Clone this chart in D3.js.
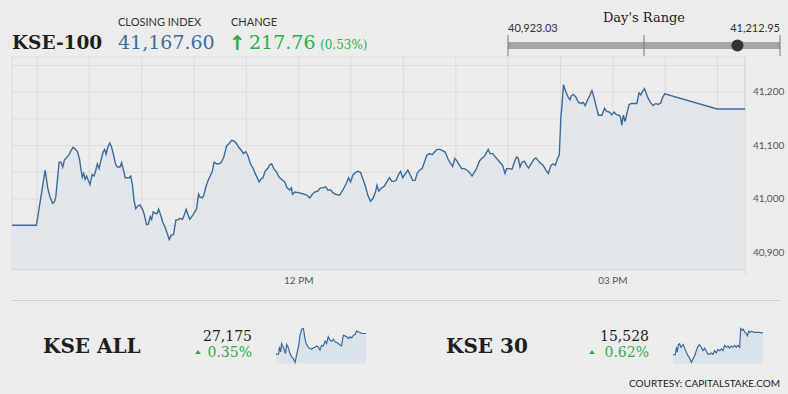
<!DOCTYPE html>
<html>
<head>
<meta charset="utf-8">
<script src="https://cdn.jsdelivr.net/npm/d3@7"></script>
<style>
    body { margin: 0; background: #ececec; }
    .sans { font-family: Lato, 'Open Sans', sans-serif; }
    .serif { font-family: 'DejaVu Serif', 'Liberation Serif', serif; }
    .grid line, .grid path { stroke: #dcdcdc; }
    .axis text { font-family: Lato, sans-serif; font-size: 10px; fill: #555; }
</style>
</head>
<body>
<svg id="kse"></svg>
<script>
//KSE-100 INTRADAY CHART WITH SPARKLINES

//header values
var indexName = 'KSE-100',
    closingIndex = 41167.60,
    change = 217.76,
    changePct = 0.53,
    dayLow = 40923.03,
    dayHigh = 41212.95;

//y axis labels
var yLabels = [40900, 41000, 41100, 41200];

//main series: [minutes after 09:30, index]
var kse100Series = [
    [-14,40949.84],[0,40949.84],[5,41053],[6.5,41019],[7.8,41003],[9.2,40991],[10.3,40994],[11.1,41003],[13,41068],[14.1,41068],
    [15.1,41059],[16,41072],[17.4,41077],[18.7,41082],[19.8,41090],[21,41096],[22.1,41093],[23.5,41088],[24.6,41075],[25.6,41053],
    [26.3,41040],[27.1,41047],[27.9,41036],[28.8,41042],[29.7,41034],[30.7,41026],[31.9,41045],[33,41042],[34,41053],[34.9,41065],
    [35.9,41056],[37,41072],[38.2,41087],[39.1,41092],[39.9,41083],[40.8,41095],[42,41104],[43.1,41096],[44,41084],[45.4,41064],
    [46.3,41059],[47.9,41059],[48.8,41067],[49.8,41054],[50.9,41039],[53.2,41039],[54,41042],[54.9,41028],[55.9,40997],[56.9,40981],
    [58,40986],[59.3,40988],[60.6,40981],[61.8,40970],[63.1,40951],[64.1,40952],[65.2,40966],[66,40961],[66.9,40975],[68.3,40972],
    [69.2,40972],[70,40980],[71.2,40969],[72.3,40956],[73.6,40947],[74.9,40935],[76.1,40923.03],[77.2,40931],[78.6,40933],[79.9,40960],
    [81.2,40960],[82.2,40963],[83.7,40961],[84.7,40969],[85.8,40980],[86.9,40969],[87.9,40961],[89.8,40970],[91.7,40980],[92.9,41008],
    [93.6,41003],[95,41001],[95.9,41006],[97.1,41022],[98.4,41034],[99.8,41044],[100.7,41050],[101.8,41068],[103.2,41065],[104.7,41065],
    [106,41068],[107.4,41078],[108.9,41098],[110.4,41103],[111.9,41109],[113.5,41107],[114.6,41103],[115.9,41096],[117.5,41090],[118.6,41084],
    [119.9,41088],[121.1,41081],[122.6,41065],[124.1,41057],[125.3,41047],[126.4,41040],[127.6,41031],[128.9,41037],[129.8,41039],[131,41051],
    [132.5,41056],[133.7,41063],[134.8,41065],[136,41056],[137.5,41050],[139,41040],[140.4,41036],[142.3,41031],[143.6,41020],[145.1,41016],
    [146.1,41020],[146.7,41008],[148,41012],[149.9,41011],[152.7,41009],[155,41006],[156.6,41001],[158.1,41008],[159.4,41012],[161.3,41014],
    [162.7,41020],[164.2,41020],[165.7,41022],[167,41016],[168.6,41016],[169.9,41011],[171.4,41008],[173.7,41006],[175.6,41016],[177.5,41028],
    [178.9,41039],[180,41031],[181.3,41044],[182.9,41049],[184.2,41051],[185.7,41049],[187,41037],[188.6,41022],[189.9,41006],[191.4,40995],
    [192.8,41000],[194.3,41012],[195.1,41025],[196.2,41014],[197.6,41019],[199.5,41024],[200.8,41031],[202.3,41039],[203.6,41032],[204.8,41032],
    [206.1,41034],[207.5,41045],[208.6,41051],[209.9,41039],[211.5,41047],[212.8,41053],[214.2,41044],[215.6,41034],[217,41034],[218.2,41047],
    [219.5,41053],[221,41056],[222.3,41068],[223.7,41081],[225.2,41084],[226.7,41082],[228.1,41087],[229.6,41092],[230.9,41092],[232.5,41090],
    [234.2,41087],[235.7,41075],[237,41067],[238.5,41060],[239.7,41075],[241,41070],[242.4,41062],[243.7,41056],[245.2,41056],[246.8,41053],
    [248.1,41049],[249.6,41042],[250.9,41049],[252.3,41057],[253.8,41070],[255.1,41075],[256.7,41079],[258,41087],[258.9,41092],[259.9,41084],
    [261.4,41084],[262.9,41078],[264.5,41072],[265.8,41067],[267.1,41062],[268.5,41047],[269.4,41056],[270.9,41056],[272.5,41055],[273.8,41068],
    [275.1,41078],[276.1,41075],[277.1,41059],[278.2,41068],[279.5,41070],[280.9,41062],[282,41057],[283.4,41065],[284.9,41073],[286.2,41076],
    [287.7,41070],[289.1,41065],[290.4,41062],[291.9,41053],[293.3,41047],[294.8,41062],[296.1,41065],[297.3,41062],[298.6,41075],[299.6,41082],
    [300.5,41152],[301.1,41174],[302,41212.95],[303.4,41199],[304.7,41190],[305.7,41185],[306.6,41193],[307.7,41195],[309.1,41190],[310.6,41180],
    [312,41178],[313.3,41180],[314.4,41174],[315.7,41184],[317.1,41193],[318.3,41202],[319.6,41188],[320.6,41174],[322,41156],[324,41156],
    [325.5,41169],[326.8,41163],[328.2,41162],[329.7,41157],[331,41162],[332.3,41157],[333.9,41156],[334.8,41151],[335.4,41137],[336.3,41156],
    [337.3,41144],[338.3,41159],[339.6,41176],[340.9,41178],[342.5,41178],[344,41178],[345.3,41198],[346.3,41194],[347.2,41200],[348.4,41206],
    [349.5,41196],[350.6,41187],[352,41179],[353.3,41174],[354.9,41178],[356.2,41176],[357.7,41179],[358.6,41188],[360,41196],[390,41167.60],[406,41167.60]
];

//sub indices
var subNames = ['KSE ALL', 'KSE 30'],
    subValues = [27175, 15528],
    subChanges = [0.35, 0.62];

//sparkline series: [minutes after 09:30, index]
var kseAllSeries = [
    [-14,27080],[-2,27080],[2,27114],[8,27091],[12,27129],[17,27118],[23,27106],[30,27083],[36,27125],[44,27109],
    [51,27083],[59,27068],[67,27060],[75,27042],[82,27076],[92,27121],[98,27167],[106,27195],[114,27198],[120,27160],
    [126,27129],[132,27121],[138,27109],[145,27106],[152,27103],[160,27109],[168,27112],[176,27118],[184,27112],[191,27099],
    [199,27121],[207,27118],[215,27140],[222,27129],[230,27160],[238,27144],[246,27140],[254,27149],[261,27137],[269,27134],
    [277,27129],[285,27121],[292,27118],[300,27167],[308,27164],[316,27160],[324,27152],[331,27160],[339,27155],[347,27167],
    [355,27170],[362,27186],[370,27183],[378,27180],[386,27175],[406,27175]
];
var kse30Series = [
    [-14,15432],[-3,15432],[2,15465],[6,15443],[11,15476],[17,15480],[22,15465],[28,15470],[34,15476],[40,15461],
    [48,15443],[56,15428],[64,15416],[72,15398],[79,15413],[87,15428],[95,15450],[103,15470],[110,15476],[118,15465],
    [126,15450],[134,15461],[142,15446],[149,15435],[157,15435],[165,15440],[173,15434],[180,15450],[188,15440],[196,15455],
    [204,15450],[212,15458],[219,15450],[227,15473],[235,15465],[243,15470],[250,15461],[258,15470],[266,15465],[274,15473],
    [281,15465],[289,15473],[297,15465],[302,15547],[308,15540],[314,15544],[320,15532],[328,15525],[333,15515],[339,15535],
    [345,15530],[352,15535],[359,15532],[367,15530],[383,15530],[406,15528]
];

var lineColor = '#3b6b9b',
    green = '#2bae4a',
    blue = '#3c6e9f';

//chart parameters
var svg = d3.select('#kse')
    .attr('width', 788)
    .attr('height', 394);

svg.append('rect')
    .attr('width', 788)
    .attr('height', 394)
    .attr('fill', '#ececec');

var margin = {top: 57, right: 43, bottom: 125, left: 12},
    width = +svg.attr('width') - margin.left - margin.right,
    height = +svg.attr('height') - margin.top - margin.bottom;

var base = new Date(2019, 4, 2, 9, 30);
var toTime = m => new Date(base.getTime() + m * 60000);

//define scales
var xScale = d3.scaleTime()
        .domain(d3.extent(kse100Series, d => toTime(d[0])))
        .range([0, width]),
    yScale = d3.scaleLinear()
        .domain([40868, 41265])
        .range([height, 0]);

//create chart group
var canvas = svg.append('g')
    .attr('transform', 'translate(' + margin.left + ',' + margin.top + ')');

//plot frame
canvas.append('rect')
    .attr('width', width)
    .attr('height', height)
    .attr('fill', 'none')
    .attr('stroke', '#dcdcdc');

//x gridlines
canvas.append('g')
    .attr('class', 'grid')
    .call(d3.axisBottom(xScale)
        .ticks(d3.timeMinute.every(30))
        .tickSize(height)
        .tickFormat(''))
    .call(g => g.select('.domain').remove());

//y gridlines
canvas.append('g')
    .attr('class', 'grid')
    .call(d3.axisLeft(yScale)
        .tickValues(d3.range(40900, 41251, 50))
        .tickSize(-width)
        .tickFormat(''))
    .call(g => g.select('.domain').remove());

//bottom rule
canvas.append('line')
    .attr('x1', 0).attr('x2', width)
    .attr('y1', height).attr('y2', height)
    .attr('stroke', '#d6d6d6')
    .attr('stroke-width', 2);

//right edge tick
canvas.append('line')
    .attr('x1', width).attr('x2', width)
    .attr('y1', 0).attr('y2', height + 5)
    .attr('stroke', '#d6d6d6');

//x axis labels
canvas.append('g')
    .attr('class', 'axis')
    .attr('transform', 'translate(0,' + height + ')')
    .call(d3.axisBottom(xScale)
        .tickValues([toTime(150), toTime(330)])
        .tickFormat(d3.timeFormat('%I %p'))
        .tickSize(0)
        .tickPadding(8))
    .call(g => g.select('.domain').remove());

//y axis labels
canvas.append('g')
    .attr('class', 'axis')
    .attr('transform', 'translate(' + width + ',0)')
    .call(d3.axisRight(yScale)
        .tickValues(yLabels)
        .tickFormat(d3.format(','))
        .tickSize(0)
        .tickPadding(8))
    .call(g => g.select('.domain').remove());

//area and line
var area = d3.area()
    .x(d => xScale(toTime(d[0])))
    .y0(height)
    .y1(d => yScale(d[1]));

var line = d3.line()
    .x(d => xScale(toTime(d[0])))
    .y(d => yScale(d[1]));

canvas.append('path')
    .datum(kse100Series)
    .attr('d', area)
    .attr('fill', '#e2e6eb');

canvas.append('path')
    .datum(kse100Series)
    .attr('d', line)
    .attr('fill', 'none')
    .attr('stroke', lineColor)
    .attr('stroke-width', 1.4);

//header
var header = svg.append('g');

header.append('text')
    .attr('class', 'serif')
    .attr('x', 12).attr('y', 49)
    .attr('font-size', 18.5)
    .attr('font-weight', 'bold')
    .attr('fill', '#1e1e1e')
    .text(indexName);

header.append('text')
    .attr('class', 'sans')
    .attr('x', 118).attr('y', 26)
    .attr('font-size', 11)
    .attr('fill', '#333')
    .text('CLOSING INDEX');

header.append('text')
    .attr('class', 'serif')
    .attr('x', 118).attr('y', 49)
    .attr('font-size', 19)
    .attr('fill', blue)
    .text(d3.format(',.2f')(closingIndex));

header.append('text')
    .attr('class', 'sans')
    .attr('x', 231).attr('y', 26)
    .attr('font-size', 11)
    .attr('fill', '#333')
    .text('CHANGE');

header.append('text')
    .attr('x', 229).attr('y', 50)
    .attr('font-family', 'DejaVu Sans')
    .attr('font-weight', 'bold')
    .attr('font-size', 20)
    .attr('fill', green)
    .text('\u2191');

header.append('text')
    .attr('class', 'serif')
    .attr('x', 249).attr('y', 49)
    .attr('font-size', 19)
    .attr('fill', green)
    .text(d3.format('.2f')(change));

header.append('text')
    .attr('class', 'serif')
    .attr('x', 320).attr('y', 49)
    .attr('font-size', 12)
    .attr('fill', green)
    .text('(' + changePct.toFixed(2) + '%)');

//day's range slider
var rangeScale = d3.scaleLinear()
    .domain([dayLow, dayHigh])
    .range([508, 780]);

var slider = svg.append('g');

slider.append('text')
    .attr('class', 'serif')
    .attr('x', 644).attr('y', 22)
    .attr('text-anchor', 'middle')
    .attr('font-size', 13)
    .attr('fill', '#222')
    .text("Day's Range");

slider.append('text')
    .attr('class', 'sans')
    .attr('x', rangeScale(dayLow)).attr('y', 32)
    .attr('font-size', 11)
    .attr('fill', '#333')
    .text(d3.format(',.2f')(dayLow));

slider.append('text')
    .attr('class', 'sans')
    .attr('x', rangeScale(dayHigh)).attr('y', 32)
    .attr('text-anchor', 'end')
    .attr('font-size', 11)
    .attr('fill', '#333')
    .text(d3.format(',.2f')(dayHigh));

slider.append('line')
    .attr('x1', rangeScale(dayLow)).attr('x2', rangeScale(dayHigh))
    .attr('y1', 45.5).attr('y2', 45.5)
    .attr('stroke', '#a6a6a6')
    .attr('stroke-width', 7);

slider.selectAll('.rtick')
    .data([dayLow, (dayLow + dayHigh) / 2, dayHigh])
    .enter().append('line')
        .attr('x1', d => rangeScale(d)).attr('x2', d => rangeScale(d))
        .attr('y1', 35).attr('y2', 56)
        .attr('stroke', '#777')
        .attr('stroke-width', 1);

slider.append('circle')
    .attr('cx', rangeScale(closingIndex))
    .attr('cy', 45.5)
    .attr('r', 6)
    .attr('fill', '#333');

//separator
svg.append('line')
    .attr('x1', 12).attr('x2', 780)
    .attr('y1', 300.5).attr('y2', 300.5)
    .attr('stroke', '#cfcfcf');

//sub index panels
var subSeries = [kseAllSeries, kse30Series],
    panelX = [0, 400];

subNames.forEach((name, i) => {
    var g = svg.append('g')
        .attr('transform', 'translate(' + panelX[i] + ',0)');

    g.append('text')
        .attr('class', 'serif')
        .attr('x', 43 + i * 3).attr('y', 353)
        .attr('font-size', 20)
        .attr('font-weight', 'bold')
        .attr('fill', '#1e1e1e')
        .text(name);

    g.append('text')
        .attr('class', 'serif')
        .attr('x', 252 - i * 3).attr('y', 341)
        .attr('text-anchor', 'end')
        .attr('font-size', 14)
        .attr('fill', '#1e1e1e')
        .text(d3.format(',')(subValues[i]));

    g.append('text')
        .attr('class', 'serif')
        .attr('x', 252 - i * 3).attr('y', 357)
        .attr('text-anchor', 'end')
        .attr('font-size', 14)
        .attr('fill', green)
        .text(subChanges[i].toFixed(2) + '%');

    var tx = 198 - i * 6;
    g.append('path')
        .attr('d', 'M' + (tx - 3) + ',354 L' + (tx + 3) + ',354 L' + tx + ',350 Z')
        .attr('fill', green);

    //sparkline
    var sx = d3.scaleLinear()
            .domain(d3.extent(subSeries[i], d => d[0]))
            .range([276 - i * 3, 366 - i * 3]),
        sy = d3.scaleLinear()
            .domain(d3.extent(subSeries[i], d => d[1]))
            .range([362.5, 328.5]);

    g.append('path')
        .datum(subSeries[i])
        .attr('d', d3.area().x(d => sx(d[0])).y0(363.5).y1(d => sy(d[1])))
        .attr('fill', '#dce2ea');

    g.append('path')
        .datum(subSeries[i])
        .attr('d', d3.line().x(d => sx(d[0])).y(d => sy(d[1])))
        .attr('fill', 'none')
        .attr('stroke', lineColor)
        .attr('stroke-width', 1.2);
});

//source
svg.append('text')
    .attr('class', 'sans')
    .attr('x', 780).attr('y', 387)
    .attr('text-anchor', 'end')
    .attr('font-size', 10)
    .attr('fill', '#222')
    .text('COURTESY: CAPITALSTAKE.COM');
</script>
</body>
</html>
